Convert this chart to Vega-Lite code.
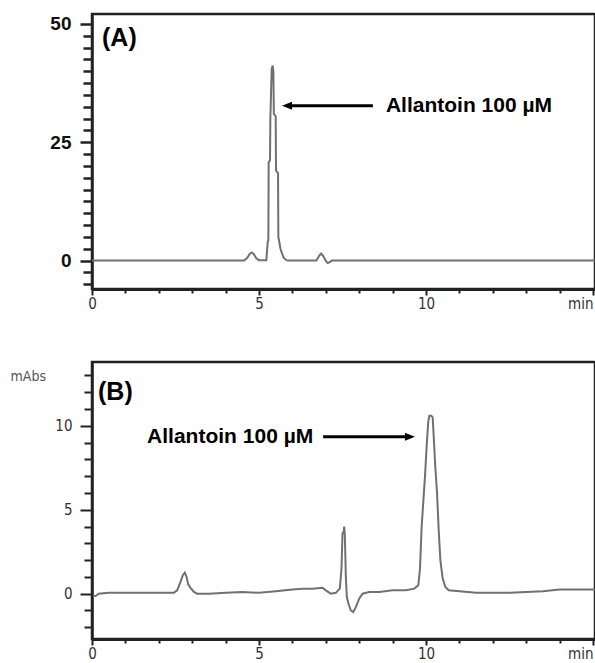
{
  "$schema": "https://vega.github.io/schema/vega-lite/v6.json",
  "padding": {"left": 8, "top": 12, "right": 0, "bottom": 0},
  "background": "white",
  "config": {
    "view": {"stroke": "#222", "strokeWidth": 2.5},
    "axis": {"grid": false, "domainColor": "#222", "tickColor": "#222"}
  },
  "datasets": {
    "lineA": [
      {"t": 0, "v": 0}, {"t": 4.55, "v": 0}, {"t": 4.65, "v": 0.6}, {"t": 4.72, "v": 1.4}, {"t": 4.78, "v": 1.7},
      {"t": 4.84, "v": 1.4}, {"t": 4.92, "v": 0.5}, {"t": 5.0, "v": 0.1}, {"t": 5.22, "v": 0.1}, {"t": 5.26, "v": 3.9},
      {"t": 5.28, "v": 4.2}, {"t": 5.29, "v": 20.8}, {"t": 5.33, "v": 21.2}, {"t": 5.34, "v": 30}, {"t": 5.38, "v": 40.5},
      {"t": 5.41, "v": 41.2}, {"t": 5.43, "v": 40}, {"t": 5.445, "v": 31}, {"t": 5.5, "v": 30.5}, {"t": 5.51, "v": 19},
      {"t": 5.57, "v": 18.5}, {"t": 5.58, "v": 5}, {"t": 5.64, "v": 2.6}, {"t": 5.68, "v": 1.7}, {"t": 5.74, "v": 0.6},
      {"t": 5.82, "v": 0.1}, {"t": 5.87, "v": 0}, {"t": 6.72, "v": 0}, {"t": 6.8, "v": 1.0}, {"t": 6.86, "v": 1.5},
      {"t": 6.92, "v": 1.0}, {"t": 6.98, "v": 0.2}, {"t": 7.05, "v": -0.5}, {"t": 7.1, "v": -0.4}, {"t": 7.18, "v": 0},
      {"t": 15.06, "v": 0}
    ],
    "lineB": [
      {"t": 0.03, "v": -0.1}, {"t": 0.1, "v": -0.15}, {"t": 0.2, "v": 0.0}, {"t": 0.5, "v": 0.05}, {"t": 1.0, "v": 0.05},
      {"t": 1.5, "v": 0.05}, {"t": 2.0, "v": 0.05}, {"t": 2.45, "v": 0.05}, {"t": 2.55, "v": 0.2}, {"t": 2.65, "v": 0.7},
      {"t": 2.72, "v": 1.1}, {"t": 2.78, "v": 1.25}, {"t": 2.83, "v": 1.0}, {"t": 2.88, "v": 0.55}, {"t": 2.95, "v": 0.35},
      {"t": 3.05, "v": 0.1}, {"t": 3.15, "v": 0.0}, {"t": 3.5, "v": 0.0}, {"t": 4.0, "v": 0.05}, {"t": 4.5, "v": 0.1},
      {"t": 5.0, "v": 0.05}, {"t": 5.5, "v": 0.15}, {"t": 6.0, "v": 0.25}, {"t": 6.3, "v": 0.3}, {"t": 6.6, "v": 0.3},
      {"t": 6.9, "v": 0.35}, {"t": 7.0, "v": 0.2}, {"t": 7.15, "v": 0.0}, {"t": 7.3, "v": 0.05}, {"t": 7.42, "v": 0.3},
      {"t": 7.47, "v": 1.5}, {"t": 7.5, "v": 3.6}, {"t": 7.53, "v": 3.6}, {"t": 7.55, "v": 4.0}, {"t": 7.57, "v": 3.5},
      {"t": 7.6, "v": 1.0}, {"t": 7.63, "v": -0.2}, {"t": 7.68, "v": -0.6}, {"t": 7.75, "v": -1.0}, {"t": 7.82, "v": -1.1},
      {"t": 7.9, "v": -0.8}, {"t": 8.0, "v": -0.3}, {"t": 8.1, "v": 0.0}, {"t": 8.3, "v": 0.1}, {"t": 8.6, "v": 0.1},
      {"t": 9.0, "v": 0.2}, {"t": 9.4, "v": 0.2}, {"t": 9.65, "v": 0.3}, {"t": 9.77, "v": 0.5}, {"t": 9.82, "v": 1.5},
      {"t": 9.87, "v": 4.0}, {"t": 9.92, "v": 5.5}, {"t": 9.97, "v": 7.0}, {"t": 10.02, "v": 8.8}, {"t": 10.07, "v": 10.3},
      {"t": 10.1, "v": 10.6}, {"t": 10.16, "v": 10.6}, {"t": 10.2, "v": 10.5}, {"t": 10.23, "v": 9.4}, {"t": 10.28, "v": 7.5},
      {"t": 10.33, "v": 6.0}, {"t": 10.38, "v": 3.8}, {"t": 10.43, "v": 2.0}, {"t": 10.5, "v": 0.9}, {"t": 10.58, "v": 0.4},
      {"t": 10.68, "v": 0.2}, {"t": 11.0, "v": 0.15}, {"t": 11.5, "v": 0.05}, {"t": 12.0, "v": 0.05}, {"t": 12.5, "v": 0.05},
      {"t": 13.0, "v": 0.1}, {"t": 13.5, "v": 0.15}, {"t": 14.0, "v": 0.25}, {"t": 14.5, "v": 0.25}, {"t": 15.06, "v": 0.25}
    ],
    "arrowA": [{"t": 5.84, "t2": 8.41, "v": 32.7}],
    "arrowB": [{"t": 6.92, "t2": 9.52, "v": 9.35}],
    "headA": [{"t": 5.84, "v": 32.7}],
    "headB": [{"t": 9.52, "v": 9.35}],
    "noteA": [{"t": 8.8, "v": 32.7, "label": "Allantoin 100 µM"}],
    "noteB": [{"t": 1.65, "v": 9.35, "label": "Allantoin 100 µM"}],
    "tagA": [{"t": 0.3, "v": 47.0, "label": "(A)"}],
    "tagB": [{"t": 0.18, "v": 12.0, "label": "(B)"}]
  },
  "spacing": 73,
  "bounds": "flush",
  "vconcat": [
    {
      "width": 503,
      "height": 275,
      "encoding": {
        "x": {
          "field": "t", "type": "quantitative",
          "scale": {"domain": [0, 15.06], "nice": false, "zero": false},
          "axis": {
            "orient": "bottom", "title": null, "tickCount": 200, "format": "d",
            "values": [0, 1, 2, 3, 4, 5, 6, 7, 8, 9, 10, 11, 12, 13, 14, 15],
            "labelExpr": "datum.value == 15 ? 'min' : (datum.value % 5 == 0 ? datum.label : '')",
            "tickSize": {"condition": {"test": "datum.value % 5 == 0", "value": 6}, "value": 4},
            "tickColor": "#222", "tickWidth": 2, "domainWidth": 3,
            "labelFont": "Liberation Sans Narrow, DejaVu Sans Condensed, sans-serif",
            "labelFontSize": 15, "labelColor": "#333", "labelPadding": 1,
            "labelAlign": {"condition": {"test": "datum.value == 15", "value": "right"}, "value": "center"},
            "labelFlush": false, "labelOverlap": false
          }
        },
        "y": {
          "field": "v", "type": "quantitative",
          "scale": {"domain": [-6, 52.1], "nice": false, "zero": false},
          "axis": {
            "title": null, "tickCount": 200, "format": "d",
            "values": [-5, -2.5, 0, 2.5, 5, 7.5, 10, 12.5, 15, 17.5, 20, 22.5, 25, 27.5, 30, 32.5, 35, 37.5, 40, 42.5, 45, 47.5, 50],
            "labelExpr": "datum.value % 25 == 0 ? datum.label : ''",
            "tickSize": {"condition": {"test": "datum.value % 25 == 0", "value": 12}, "value": 9},
            "tickColor": "#222", "tickWidth": 2.5, "domainWidth": 2.5,
            "labelFont": "Liberation Sans", "labelFontWeight": "bold", "labelFontSize": 19,
            "labelColor": "#111", "labelPadding": 9, "labelOverlap": false
          }
        }
      },
      "layer": [
        {
          "data": {"name": "lineA"},
          "mark": {"type": "line", "color": "#707070", "strokeWidth": 2, "clip": true}
        },
        {
          "data": {"name": "arrowA"},
          "mark": {"type": "rule", "color": "black", "strokeWidth": 3},
          "encoding": {"x2": {"field": "t2"}}
        },
        {
          "data": {"name": "headA"},
          "mark": {"type": "point", "shape": "M -1 0 L 1 -0.8 L 1 0.8 Z", "filled": true, "color": "black", "size": 100, "opacity": 1}
        },
        {
          "data": {"name": "noteA"},
          "mark": {"type": "text", "font": "Liberation Sans", "fontWeight": "bold", "fontSize": 21, "align": "left", "baseline": "middle", "color": "black"},
          "encoding": {"text": {"field": "label"}}
        },
        {
          "data": {"name": "tagA"},
          "mark": {"type": "text", "font": "Liberation Sans", "fontWeight": "bold", "fontSize": 25, "align": "left", "baseline": "middle", "color": "black"},
          "encoding": {"text": {"field": "label"}}
        }
      ]
    },
    {
      "width": 503,
      "height": 277,
      "encoding": {
        "x": {
          "field": "t", "type": "quantitative",
          "scale": {"domain": [0, 15.06], "nice": false, "zero": false},
          "axis": {
            "orient": "bottom", "title": null, "tickCount": 200, "format": "d",
            "values": [0, 1, 2, 3, 4, 5, 6, 7, 8, 9, 10, 11, 12, 13, 14, 15],
            "labelExpr": "datum.value == 15 ? 'min' : (datum.value % 5 == 0 ? datum.label : '')",
            "tickSize": {"condition": {"test": "datum.value % 5 == 0", "value": 6}, "value": 4},
            "tickColor": "#222", "tickWidth": 2, "domainWidth": 3,
            "labelFont": "Liberation Sans Narrow, DejaVu Sans Condensed, sans-serif",
            "labelFontSize": 15, "labelColor": "#333", "labelPadding": 1,
            "labelAlign": {"condition": {"test": "datum.value == 15", "value": "right"}, "value": "center"},
            "labelFlush": false, "labelOverlap": false
          }
        },
        "y": {
          "field": "v", "type": "quantitative",
          "scale": {"domain": [-2.7, 13.8], "nice": false, "zero": false},
          "axis": {
            "title": "mAbs", "titleAngle": 0, "titleAlign": "left", "titleBaseline": "top",
            "titleX": -82, "titleY": 7, "tickCount": 200, "format": "d",
            "titleFont": "Liberation Sans Narrow, DejaVu Sans Condensed, sans-serif",
            "titleFontSize": 14, "titleFontWeight": "normal", "titleColor": "#555",
            "values": [-2, -1, 0, 1, 2, 3, 4, 5, 6, 7, 8, 9, 10, 11, 12, 13],
            "labelExpr": "datum.value % 5 == 0 ? datum.label : ''",
            "tickSize": {"condition": {"test": "datum.value % 5 == 0", "value": 12}, "value": 8},
            "tickColor": "#222", "tickWidth": 2, "domainWidth": 2.5,
            "labelFont": "Liberation Sans Narrow, DejaVu Sans Condensed, sans-serif",
            "labelFontSize": 15, "labelColor": "#333", "labelPadding": 8, "labelOverlap": false
          }
        }
      },
      "layer": [
        {
          "data": {"name": "lineB"},
          "mark": {"type": "line", "color": "#707070", "strokeWidth": 2, "clip": true}
        },
        {
          "data": {"name": "arrowB"},
          "mark": {"type": "rule", "color": "black", "strokeWidth": 3},
          "encoding": {"x2": {"field": "t2"}}
        },
        {
          "data": {"name": "headB"},
          "mark": {"type": "point", "shape": "M 1 0 L -1 -0.8 L -1 0.8 Z", "filled": true, "color": "black", "size": 100, "opacity": 1}
        },
        {
          "data": {"name": "noteB"},
          "mark": {"type": "text", "font": "Liberation Sans", "fontWeight": "bold", "fontSize": 21, "align": "left", "baseline": "middle", "color": "black"},
          "encoding": {"text": {"field": "label"}}
        },
        {
          "data": {"name": "tagB"},
          "mark": {"type": "text", "font": "Liberation Sans", "fontWeight": "bold", "fontSize": 25, "align": "left", "baseline": "middle", "color": "black"},
          "encoding": {"text": {"field": "label"}}
        }
      ]
    }
  ]
}
